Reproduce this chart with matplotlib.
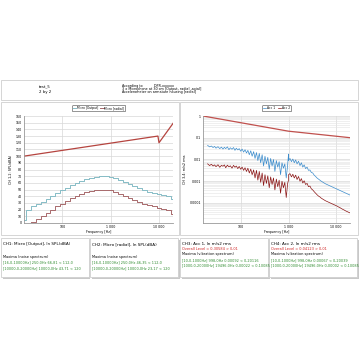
import matplotlib
matplotlib.use("Agg")
import matplotlib.pyplot as plt
from matplotlib.patches import Rectangle
from matplotlib.ticker import FixedLocator, FixedFormatter, NullFormatter, LogLocator

plt.rcParams['font.family'] = ['DejaVu Sans']

# ---- data: left chart (third octave spectra, dBA) ----
bands = [16, 20, 25, 31.5, 40, 50, 63, 80, 100, 125, 160, 200, 250, 315, 400, 500,
         630, 800, 1000, 1250, 1600, 2000, 2500, 3150, 4000, 5000, 6300, 8000,
         10000, 12500, 16000, 20000]
mic_output = [5, 20, 26, 28, 32, 36, 40, 45, 50, 53, 57, 60, 63, 66, 68, 69,
              70, 70, 69, 67, 64, 61, 58, 55, 52, 49, 47, 45, 44, 42, 40, 36]
mic_radial = [None, None, 1, 6, 10, 15, 20, 25, 29, 33, 37, 40, 43, 46, 48, 49,
              50, 50, 49, 47, 44, 41, 38, 35, 32, 29, 27, 25, 23, 21, 19, 14]
limit_spl_f = [16, 9500, 10000, 20000]
limit_spl = [100, 130, 120, 150]

# ---- data: right chart (vibration spectra, log10 of m/s2 rms) ----
f_acc = [20, 22, 24, 26, 28, 30, 33, 36, 39, 42, 45, 48, 52, 56, 60, 65, 70, 75, 80,
         86, 92, 99, 106, 114, 122, 131, 140, 150, 161, 172, 185, 198, 212, 227, 243,
         260, 279, 299, 320, 343, 367, 393, 421, 451, 483, 517, 554, 593, 635, 680,
         728, 780, 835, 894, 957, 998, 1000, 1070, 1150, 1230, 1320, 1410, 1510, 1620,
         1740, 1860, 1990, 2130, 2280, 2450, 2620, 2810, 3010, 3220, 3450, 3700, 3960,
         4240, 4540, 4870, 5210, 5580, 5980, 6410, 6860, 7350, 7870, 8430, 9030, 9670,
         10360, 11100, 11890, 12730, 13640, 14610, 15650, 16760, 17950, 19230, 20000]
acc1_log = [-1.35, -1.42, -1.38, -1.45, -1.40, -1.48, -1.41, -1.50, -1.43, -1.52, -1.44,
            -1.50, -1.42, -1.55, -1.46, -1.53, -1.45, -1.58, -1.48, -1.56, -1.50, -1.62,
            -1.52, -1.66, -1.55, -1.70, -1.58, -1.78, -1.60, -1.85, -1.64, -1.95, -1.68,
            -2.05, -1.72, -2.15, -1.78, -2.30, -1.85, -2.20, -1.90, -2.45, -1.95, -2.30,
            -2.00, -2.55, -2.05, -2.35, -2.10, -2.70, -2.15, -2.40, -2.20, -2.85, -2.25,
            -1.75, -2.05, -1.95, -2.10, -1.98, -2.15, -2.02, -2.20, -2.08, -2.28, -2.15,
            -2.35, -2.25, -2.42, -2.35, -2.50, -2.48, -2.60, -2.62, -2.72, -2.78, -2.85,
            -2.90, -2.95, -3.00, -3.04, -3.08, -3.12, -3.15, -3.18, -3.21, -3.24, -3.27,
            -3.30, -3.33, -3.36, -3.39, -3.42, -3.45, -3.48, -3.51, -3.54, -3.57, -3.60,
            -3.63, -3.65]
acc2_log = [-2.20, -2.28, -2.22, -2.30, -2.25, -2.33, -2.24, -2.36, -2.27, -2.31, -2.25,
            -2.38, -2.26, -2.34, -2.29, -2.40, -2.27, -2.36, -2.30, -2.42, -2.32, -2.45,
            -2.35, -2.50, -2.38, -2.55, -2.40, -2.62, -2.44, -2.70, -2.48, -2.85, -2.50,
            -2.95, -2.55, -3.05, -2.62, -3.20, -2.70, -3.10, -2.75, -3.30, -2.80, -3.15,
            -2.85, -3.40, -2.90, -3.25, -2.95, -3.55, -3.00, -3.30, -3.05, -3.75, -3.10,
            -2.95, -2.70, -2.65, -2.80, -2.68, -2.85, -2.72, -2.92, -2.78, -3.00, -2.88,
            -3.08, -2.98, -3.15, -3.10, -3.25, -3.22, -3.35, -3.40, -3.48, -3.55, -3.62,
            -3.68, -3.72, -3.78, -3.82, -3.86, -3.90, -3.93, -3.96, -3.99, -4.02, -4.05,
            -4.08, -4.11, -4.14, -4.18, -4.21, -4.25, -4.29, -4.32, -4.36, -4.39, -4.42,
            -4.45, -4.47]
limit_acc_f = [16, 1000, 20000]
limit_acc = [1.0, 0.2, 0.1]

W = 359.0


def fx(x):
    return x / W


def fy(y):
    return 1 - y / W


fig = plt.figure(figsize=(3.59, 3.59), dpi=100, facecolor="white")


def box(x0, y0, x1, y1, shadow=False):
    if shadow:
        fig.add_artist(Rectangle((fx(x0) + 1.5 / W, fy(y1) - 1.5 / W), (x1 - x0) / W, (y1 - y0) / W,
                                 transform=fig.transFigure, facecolor="#c8c8c8", edgecolor="none",
                                 zorder=-3))
    fig.add_artist(Rectangle((fx(x0), fy(y1)), (x1 - x0) / W, (y1 - y0) / W,
                             transform=fig.transFigure, facecolor="white",
                             edgecolor="#cfcfcf", linewidth=0.6, zorder=-2))


# header
box(1, 80, 358, 100)
fig.text(fx(45), fy(86), "test_5", fontsize=2.8, ha="center", va="center")
fig.text(fx(45), fy(92), "2 by 2", fontsize=2.8, ha="center", va="center")
fig.text(fx(122), fy(86), "According to          DPR-xxxxxx", fontsize=2.4, va="center")
fig.text(fx(122), fy(88.8), "3 x Microphone at 30 cm [Output, radial ,axial]", fontsize=2.4, va="center")
fig.text(fx(122), fy(91.7), "Accelerometer on armature housing [radial]", fontsize=2.4, va="center")

# chart panels
box(1, 102, 179, 235)
box(180, 102, 358, 235)

# ---- left chart ----
ax1 = fig.add_axes([fx(24), fy(223), 149 / W, 107 / W])
ax1.plot(limit_spl_f, limit_spl, color="#b5443f", lw=0.9)
ax1.step(bands, mic_output, where="mid", color="#86bcc6", lw=0.7, label="Micro [Output]")
ax1.step(bands, mic_radial, where="mid", color="#a86a6c", lw=0.7, label="Micro [radial]")
ax1.set_xscale("log")
ax1.set_xlim(16, 19500)
ax1.set_ylim(0, 160)
ax1.set_yticks(range(0, 161, 10))
ax1.set_ylabel("CH 1,2: SPL(dBA)", fontsize=2.4, labelpad=2)

# ---- right chart ----
ax2 = fig.add_axes([fx(203), fy(223), 147 / W, 107 / W])
ax2.plot(limit_acc_f, limit_acc, color="#c0504d", lw=0.9)
ax2.plot(f_acc, [10 ** v for v in acc1_log], color="#3b8ccc", lw=0.5, label="Acc 1")
ax2.plot(f_acc, [10 ** v for v in acc2_log], color="#8b1414", lw=0.5, label="Acc 2")
ax2.set_xscale("log")
ax2.set_yscale("log")
ax2.set_xlim(16, 19500)
ax2.set_ylim(1.2e-5, 1)
ax2.yaxis.set_major_locator(FixedLocator([1, 0.1, 0.01, 0.001, 0.0001]))
ax2.yaxis.set_major_formatter(FixedFormatter(["1", "0,1", "0,01", "0,001", "0,0001"]))
ax2.yaxis.set_minor_locator(LogLocator(base=10, subs=range(2, 10)))
ax2.yaxis.set_minor_formatter(NullFormatter())
ax2.set_ylabel("CH 3,4: m/s2 rms", fontsize=2.4, labelpad=2)
ax2.grid(True, which="minor", axis="y", color="#e4e4e4", lw=0.4)

for ax in (ax1, ax2):
    ax.xaxis.set_major_locator(FixedLocator([100, 1000, 10000]))
    ax.xaxis.set_major_formatter(FixedFormatter(["100", "1 000", "10 000"]))
    ax.xaxis.set_minor_formatter(NullFormatter())
    ax.tick_params(which="both", labelsize=2.3, length=0, pad=1.5)
    ax.grid(True, which="major", color="#d8d8d8", lw=0.5)
    ax.set_axisbelow(True)
    ax.set_xlabel("Frequency [Hz]", fontsize=2.4, labelpad=1)
    for side in ("top", "right"):
        ax.spines[side].set_visible(False)
    for side in ("left", "bottom"):
        ax.spines[side].set_color("#999999")
        ax.spines[side].set_linewidth(0.6)
    leg = ax.legend(loc="lower center", bbox_to_anchor=(0.5, 1.03), ncol=2, fontsize=2.2,
                    frameon=True, fancybox=True, handlelength=1.0, columnspacing=0.8,
                    borderpad=0.3, handletextpad=0.3)
    leg.get_frame().set_edgecolor("#444444")
    leg.get_frame().set_linewidth(0.5)

# ---- bottom info boxes ----
green = "#2e8b2e"
red = "#d02020"
info = [
    (1, [("CH1: Micro [Output], In SPL(dBA)", "black", 244), ("Maxima (noise spectrum)", "black", 257),
         ("[16,0-10000Hz] 250,0Hz 66,81 < 112,0", green, 262.5),
         ("[10000,0-20000Hz] 10000,0Hz 43,71 < 120", green, 268)]),
    (90, [("CH2: Micro [radial], In SPL(dBA)", "black", 244), ("Maxima (noise spectrum)", "black", 257),
          ("[16,0-10000Hz] 250,0Hz 46,35 < 112,0", green, 262.5),
          ("[10000,0-20000Hz] 10000,0Hz 23,17 < 120", green, 268)]),
    (180, [("CH3: Acc 1, In m/s2 rms", "black", 244), ("Overall Level = 0,30584 > 0,01", red, 249.5),
           ("Maxima (vibration spectrum)", "black", 254.5),
           ("[10,0-1000Hz] 998,0Hz 0,00092 < 0,20116", green, 260),
           ("[1000,0-20000Hz] 19496,0Hz 0,00022 < 0,10085", green, 265)]),
    (269, [("CH4: Acc 2, In m/s2 rms", "black", 244), ("Overall Level = 0,04123 > 0,01", red, 249.5),
           ("Maxima (vibration spectrum)", "black", 254.5),
           ("[10,0-1000Hz] 998,0Hz 0,00067 < 0,20039", green, 260),
           ("[1000,0-20000Hz] 19496,0Hz 0,00002 < 0,10085", green, 265)]),
]
for x0, lines in info:
    box(x0, 238, x0 + 88, 277, shadow=True)
    for i, (txt, col, y) in enumerate(lines):
        fig.text(fx(x0 + 2), fy(y), txt, fontsize=3.0 if i == 0 else 2.5, color=col, va="center")

fig.savefig("out.png", dpi=100, facecolor="white")
